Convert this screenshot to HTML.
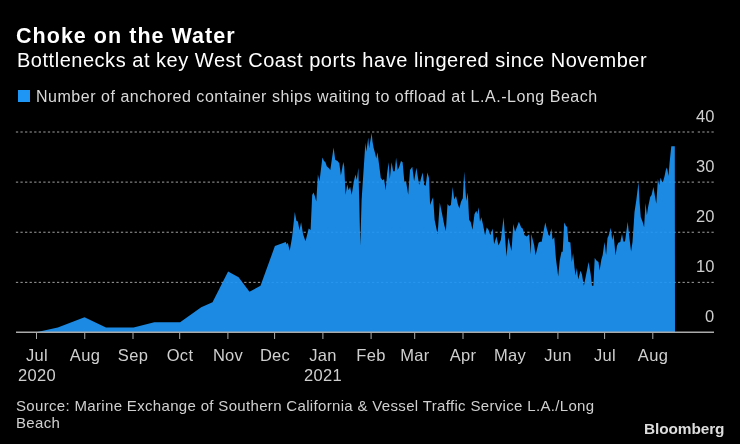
<!DOCTYPE html>
<html><head><meta charset="utf-8"><style>
html,body{margin:0;padding:0;background:#000;}
body{width:740px;height:444px;position:relative;overflow:hidden;font-family:"Liberation Sans",sans-serif;}
.t,.xl,.yl{position:absolute;white-space:nowrap;line-height:1;will-change:transform;}
#title{left:16.4px;top:25.5px;font-size:21.5px;font-weight:bold;color:#fff;letter-spacing:1.03px;}
#sub{left:16.8px;top:49.8px;font-size:20px;color:#fff;letter-spacing:0.525px;}
#leg{left:36px;top:88.7px;font-size:16px;color:#d9d9d9;letter-spacing:0.53px;}
#sq{position:absolute;left:18px;top:90px;width:12px;height:11.5px;background:#1e96f5;}
.xl{width:80px;text-align:center;font-size:16.5px;line-height:1;color:#cfcfcf;letter-spacing:0.3px;}
.yl{right:26px;font-size:16.5px;line-height:1;color:#cfcfcf;}
#src{left:16px;top:397.1px;font-size:15px;line-height:17px;color:#cfcfcf;letter-spacing:0.33px;}
#bb{left:643.5px;top:420.85px;font-size:15.4px;font-weight:bold;color:#dcdcdc;letter-spacing:-0.1px;}
svg{position:absolute;left:0;top:0;}
</style></head><body>
<div id="title" class="t">Choke on the Water</div>
<div id="sub" class="t">Bottlenecks at key West Coast ports have lingered since November</div>
<div id="sq"></div>
<div id="leg" class="t">Number of anchored container ships waiting to offload at L.A.-Long Beach</div>
<svg width="740" height="444" viewBox="0 0 740 444">
<g stroke="#a0a0a0" stroke-width="1" stroke-dasharray="2.283 2.283"><line x1="15.9" y1="132" x2="695" y2="132" /><line x1="697.75" y1="132" x2="714" y2="132" /><line x1="15.9" y1="182.12" x2="695" y2="182.12" /><line x1="697.75" y1="182.12" x2="714" y2="182.12" /><line x1="15.9" y1="232.24" x2="695" y2="232.24" /><line x1="697.75" y1="232.24" x2="714" y2="232.24" /><line x1="15.9" y1="282.36" x2="695" y2="282.36" /><line x1="697.75" y1="282.36" x2="714" y2="282.36" /></g>
<polygon fill="#1e96f5" fill-opacity="0.92" points="37.3,332 57.8,327.6 84.5,317.3 106,327.6 133.6,327.4 154.3,322.2 180.1,322.2 201.2,307.3 212.5,302.2 220,287.4 228.1,271.5 238.6,277.3 249.5,291.7 260.5,285.8 274.9,246.1 285.8,241.9 286.6,244.4 287.8,242.8 289.7,250.7 292.1,237.3 294.8,212.1 296.4,220.8 297.9,221.5 299.5,230.2 301.1,222.3 303.1,234.2 305.5,241.3 308.7,228.6 310.6,230 312.2,195 313.5,192.4 314.8,196 316.3,201.4 317.9,174.4 319.5,181.2 322.4,157.5 324,160.9 325.3,162 326.9,166.5 328.5,167.7 330.3,169.9 331.8,159.8 333.6,147.4 335.2,159.8 337.5,160.9 339.3,163.2 340.9,175.5 343.3,162 344.2,166.5 345.6,194.7 347.2,184.5 348.7,190.2 350.1,186.8 351.7,194.7 353.9,181.2 355.5,174.4 356.8,180 358.4,167.7 359.2,200 360.3,246 361.6,200 365.4,142.7 366.3,151.7 368.3,137.6 369.1,148.3 371.7,133.1 372.5,141.5 373.6,147.7 375.3,153.9 376.2,158.4 377.5,152.2 378.7,161.8 380.8,177.9 382.6,180.2 384.1,179 385.7,190.3 387.1,173.4 388.6,162.2 389.8,179 391.6,162.2 393.2,171.2 394.7,171.2 396.1,157.7 397.7,170 399.2,166.7 401,161 402.6,162.2 404.4,182.4 406,181.3 408.2,194.8 410,170 412.3,166.7 414.1,181.3 416.4,167.8 419.1,184.7 420,182.5 421.1,178 422.7,172.4 424.1,184.8 425.6,185.9 427.4,172.4 429,178 430.1,205 431.7,200.5 433.1,197.2 434.6,219.7 436.2,227.6 437.6,234.3 439.8,202.8 442.1,214 444.3,225.3 445.9,231 447.5,203.9 449.3,206.2 450.9,205 452.7,187 454.2,199.4 456,196 457.8,203.9 459.4,208.4 461,201.7 462.8,198.3 464.2,171.5 466.2,201 467.8,192.5 469.1,219.7 470.7,221.9 472.5,229.8 474.5,214 476.3,210.7 477.4,214 478.6,207.2 480,221.8 481.3,217.3 482.9,224 485.1,235.3 486.7,227.4 488.5,229.7 490.3,235.3 492.6,228.6 494.1,244.3 496.4,236.4 498.6,245.5 500.9,239.8 503.6,217.3 505.4,242.1 506.5,256.7 508.3,237.6 509.9,244.3 511.5,251.1 513.3,224 515.1,231.9 516.7,227.4 518.9,221.8 521.2,227.4 522.7,228.6 524.5,235.3 526.8,236.4 529.1,234.2 530.9,254.5 531.3,234 532.7,239.4 534.1,245 535.6,255.2 537.2,248.4 538.6,242.8 540.1,241.7 541.7,241.7 543.5,231.5 545.3,222.5 546.9,229.3 548.5,234.9 549.8,236 551.4,228.2 552.5,239.4 554.3,237.2 555.9,258.6 558.2,276.6 559.7,260.8 561.5,251.8 562.7,251.8 564.2,222.5 566,225.9 567.2,227 568.3,241.7 570.4,242.4 571.8,262 573.1,253.2 574.5,267.4 575.5,275.5 576.9,268.1 578.2,279.6 580.5,270.8 581.9,274.2 583.9,285.7 588.6,262 590.7,274.2 592,285.7 593.4,285.7 594.7,258 596.7,260.8 598.5,261.9 599.6,270.4 601.4,259.6 602.7,254.9 604.5,242 606.1,255 607.5,238 608.5,236 609.9,231.2 610.8,227.8 612.2,240 613.5,234 615.6,255.5 616.9,246 618.3,242.7 620.3,242 622,234 623.4,241.4 625,241.4 626.4,231.2 627.7,221.8 629.4,238 631.1,251.5 632.5,242 633.8,223 634.5,212 636.3,200.3 638.5,182.3 639.6,202.6 640.8,217.2 642.6,221.7 644.1,227.3 645.5,203.1 646.9,215.3 648.2,206.5 650.2,197 651.6,195 653.4,186.9 655,196.4 656.3,203.8 657.9,179 659.3,185 660.6,177.7 661.8,181.1 662.9,182.2 664.6,176 665.7,170.4 666.8,167.6 667.6,170.4 668.5,176 669.6,162.5 671.3,146.2 674.8,146.2 675,332"/>
<rect x="16" y="331.5" width="698" height="1.5" fill="#aaaaaa"/>
<g stroke="#aaaaaa" stroke-width="1"><line x1="36.5" y1="332" x2="36.5" y2="339" /><line x1="84.75" y1="332" x2="84.75" y2="339" /><line x1="133" y1="332" x2="133" y2="339" /><line x1="179.7" y1="332" x2="179.7" y2="339" /><line x1="227.9" y1="332" x2="227.9" y2="339" /><line x1="274.6" y1="332" x2="274.6" y2="339" /><line x1="322.9" y1="332" x2="322.9" y2="339" /><line x1="371.1" y1="332" x2="371.1" y2="339" /><line x1="414.7" y1="332" x2="414.7" y2="339" /><line x1="463" y1="332" x2="463" y2="339" /><line x1="509.7" y1="332" x2="509.7" y2="339" /><line x1="557.9" y1="332" x2="557.9" y2="339" /><line x1="604.6" y1="332" x2="604.6" y2="339" /><line x1="652.8" y1="332" x2="652.8" y2="339" /></g>
</svg>
<div class="xl" style="left:-3.5px;top:347.1px">Jul</div><div class="xl" style="left:44.75px;top:347.1px">Aug</div><div class="xl" style="left:93px;top:347.1px">Sep</div><div class="xl" style="left:139.7px;top:347.1px">Oct</div><div class="xl" style="left:187.9px;top:347.1px">Nov</div><div class="xl" style="left:234.60000000000002px;top:347.1px">Dec</div><div class="xl" style="left:282.9px;top:347.1px">Jan</div><div class="xl" style="left:331.1px;top:347.1px">Feb</div><div class="xl" style="left:374.7px;top:347.1px">Mar</div><div class="xl" style="left:423px;top:347.1px">Apr</div><div class="xl" style="left:469.7px;top:347.1px">May</div><div class="xl" style="left:517.9px;top:347.1px">Jun</div><div class="xl" style="left:564.6px;top:347.1px">Jul</div><div class="xl" style="left:612.8px;top:347.1px">Aug</div><div class="xl" style="left:-3.5px;top:366.8px">2020</div><div class="xl" style="left:282.9px;top:366.8px">2021</div>
<div class="yl" style="top:107.7px">40</div><div class="yl" style="top:157.7px">30</div><div class="yl" style="top:207.7px">20</div><div class="yl" style="top:257.7px">10</div><div class="yl" style="top:307.7px">0</div>
<div id="src" class="t">Source: Marine Exchange of Southern California &amp; Vessel Traffic Service L.A./Long<br>Beach</div>
<div id="bb" class="t">Bloomberg</div>
</body></html>
